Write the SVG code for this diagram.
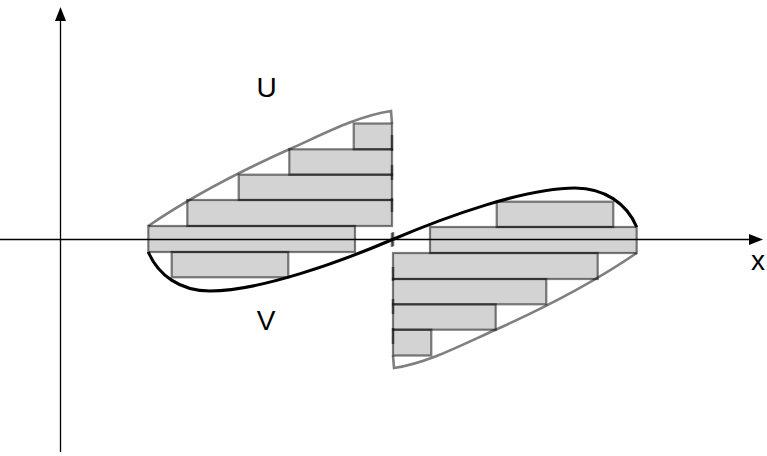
<svg xmlns="http://www.w3.org/2000/svg" xmlns:xlink="http://www.w3.org/1999/xlink" width="767" height="456" viewBox="0 0 767 456">
<style>
.fill{fill:#d3d3d3;stroke:none}
.edge{fill:none;stroke:#000;stroke-opacity:0.5;stroke-width:2.2}
.bound{fill:none;stroke:#000;stroke-opacity:0.5;stroke-width:2.6}
.dash{stroke:#000;stroke-opacity:0.5;stroke-width:2.6}
.curve{fill:none;stroke:#000;stroke-width:3}
.axis{stroke:#000;stroke-width:1.3}
.lbl{font-family:"Liberation Sans",Arial,sans-serif;font-size:28px;fill:#000;text-anchor:middle}
</style>
<defs>
<g id="half">
<g id="fills">
<rect class="fill" x="353.7" y="123.5" width="38.3" height="25.8"/>
<rect class="fill" x="289.3" y="149.3" width="102.7" height="25.4"/>
<rect class="fill" x="238.7" y="174.7" width="153.3" height="25.3"/>
<rect class="fill" x="187.3" y="200" width="204.7" height="26"/>
<rect class="fill" x="148.3" y="226" width="206.7" height="26"/>
<rect class="fill" x="171.7" y="252" width="116.6" height="25.3"/>
</g>
<g id="edges">
<rect class="edge" x="353.7" y="123.5" width="38.3" height="25.8"/>
<rect class="edge" x="289.3" y="149.3" width="102.7" height="25.4"/>
<rect class="edge" x="238.7" y="174.7" width="153.3" height="25.3"/>
<rect class="edge" x="187.3" y="200" width="204.7" height="26"/>
<rect class="edge" x="148.3" y="226" width="206.7" height="26"/>
<rect class="edge" x="171.7" y="252" width="116.6" height="25.3"/>
</g>
<path class="bound" d="M148.3,226 C195,194 242.3,170.3 289.3,149.3 C323.3,134.1 357,116 391,111 L392,123.5"/>
<line class="dash" x1="392" y1="135" x2="392" y2="151"/>
<line class="dash" x1="392" y1="165" x2="392" y2="180"/>
<line class="dash" x1="392" y1="198" x2="392" y2="212"/>
<line class="dash" x1="392" y1="233" x2="392" y2="247"/>
</g>
</defs>
<g id="upper-region">
<use xlink:href="#half" href="#half"/>
</g>
<g id="lower-region">
<use xlink:href="#half" href="#half" transform="rotate(180 392.5 239.5)"/>
</g>
<g id="axes">
<line class="axis" x1="0" y1="239.5" x2="752" y2="239.5"/>
<polygon points="763,239.5 749,234 749,245" fill="#000"/>
<line class="axis" x1="60.5" y1="452" x2="60.5" y2="18"/>
<polygon points="60.5,7 55,21 66,21" fill="#000"/>
</g>
<g id="connectors">
<path class="curve" d="M148.3,252 C158,275 180,291 210,291 C260,291 340,262 392.5,239.5 C445,217 525,188 575,188 C605,188 627,204 636.7,227"/>
</g>
<g id="labels">
<text class="lbl" x="266.5" y="97">U</text>
<text class="lbl" x="266" y="330">V</text>
<text class="lbl" x="758" y="270">x</text>
</g>
</svg>
